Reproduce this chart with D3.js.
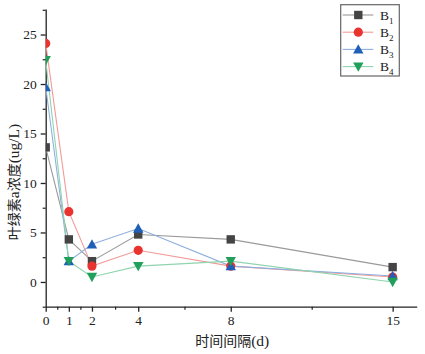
<!DOCTYPE html>
<html>
<head>
<meta charset="utf-8">
<script src="https://cdn.jsdelivr.net/npm/d3@7/dist/d3.min.js"></script>
<style>
  html, body { margin: 0; padding: 0; background: #fff; }
  svg { display: block; }
  text { font-family: "Liberation Serif", "Times New Roman", serif; fill: #222; }
</style>
</head>
<body>
<svg id="chart" width="425" height="354"></svg>
<script>
const days = [0, 1, 2, 4, 8, 15];
const xTickLabels = ["0", "1", "2", "4", "8", "15"];
const xMinorTicks = [0.5, 1.5, 3, 6, 11.5];
const yTicks = [0, 5, 10, 15, 20, 25];
const seriesNames = ["B1", "B2", "B3", "B4"];
const b1 = [13.6, 4.3, 2.1, 4.8, 4.3, 1.5];
const b2 = [24.1, 7.1, 1.6, 3.2, 1.6, 0.5];
const b3 = [19.7, 2.1, 3.8, 5.4, 1.6, 0.6];
const b4 = [22.4, 2.1, 0.5, 1.6, 2.1, 0.0];
const xTitle = "时间间隔(d)";
const yTitle = "叶绿素a浓度(ug/L)";

const markerColors = ["#444444", "#e8332f", "#1f5fb8", "#20a05a"];
const lineColors = ["#9a9a9a", "#f29a98", "#8fb0de", "#8fd4ae"];
const shapes = ["square", "circle", "triangle", "triangleDown"];

const svg = d3.select("#chart");
const mLeft = 45.7, mRight = 416.7, mTop = 9, mBottom = 306.7;

const x = d3.scaleLinear().domain([0, 16.04]).range([mLeft, mRight]);
const y = d3.scaleLinear().domain([-2.5, 27.58]).range([mBottom, mTop]);

svg.append("defs").append("clipPath").attr("id", "plotclip")
  .append("rect").attr("x", mLeft).attr("y", mTop).attr("width", mRight - mLeft).attr("height", mBottom - mTop);

// axes
const xAxis = d3.axisBottom(x).tickValues(days).tickFormat((d, i) => xTickLabels[i]).tickSize(5).tickSizeOuter(0).tickPadding(4);
const gx = svg.append("g").attr("transform", `translate(0,${mBottom})`).call(xAxis);
gx.selectAll("text").style("font-size", "13.5px").attr("fill", "#222");
gx.select(".domain").attr("stroke", "#222").attr("stroke-width", 1.3);
gx.selectAll(".tick line").attr("stroke", "#222").attr("stroke-width", 1.3);
const xMinor = d3.axisBottom(x).tickValues(xMinorTicks).tickFormat("").tickSize(3).tickSizeOuter(0);
const gxm = svg.append("g").attr("transform", `translate(0,${mBottom})`).call(xMinor);
gxm.select(".domain").remove();
gxm.selectAll(".tick line").attr("stroke", "#222").attr("stroke-width", 1.2);

const yAxis = d3.axisLeft(y).tickValues(yTicks).tickSize(5).tickSizeOuter(0).tickPadding(4);
const gy = svg.append("g").attr("transform", `translate(${mLeft},0)`).call(yAxis);
gy.selectAll("text").style("font-size", "13.5px").attr("fill", "#222");
gy.select(".domain").attr("stroke", "#222").attr("stroke-width", 1.3);
gy.selectAll(".tick line").attr("stroke", "#222").attr("stroke-width", 1.3);
const yMinor = d3.axisLeft(y).tickValues([-2.5, 2.5, 7.5, 12.5, 17.5, 22.5, 27.5]).tickFormat("").tickSize(3).tickSizeOuter(0);
const gym = svg.append("g").attr("transform", `translate(${mLeft},0)`).call(yMinor);
gym.select(".domain").remove();
gym.selectAll(".tick line").attr("stroke", "#222").attr("stroke-width", 1.2);

// titles: CJK parts in CJK font, Latin parts in serif
function addMixed(textSel, str) {
  const parts = str.match(/[\u4e00-\u9fff]+|[^\u4e00-\u9fff]+/g);
  parts.forEach(p => {
    const cjk = /[\u4e00-\u9fff]/.test(p);
    textSel.append("tspan")
      .style("font-family", cjk ? "'Noto Sans CJK SC', sans-serif" : "'Liberation Serif', serif")
      .style("font-size", cjk ? "14px" : "15.5px")
      .text(p);
  });
}
const xt = svg.append("text").attr("x", (mLeft + mRight) / 2 + 1).attr("y", 346)
  .attr("text-anchor", "middle").attr("fill", "#555");
addMixed(xt, xTitle);
const yt = svg.append("text").attr("transform", `translate(19,182) rotate(-90)`)
  .attr("text-anchor", "middle").attr("fill", "#555");
addMixed(yt, yTitle);

function drawMarker(g, shape, cx, cy, color) {
  const s = 4.2;
  if (shape === "square") {
    g.append("rect").attr("x", cx - s).attr("y", cy - s).attr("width", 2 * s).attr("height", 2 * s).attr("fill", color);
  } else if (shape === "circle") {
    g.append("circle").attr("cx", cx).attr("cy", cy).attr("r", s + 0.4).attr("fill", color);
  } else if (shape === "triangle") {
    g.append("path").attr("d", `M${cx},${cy - s - 1} L${cx + s + 1},${cy + s} L${cx - s - 1},${cy + s} Z`).attr("fill", color);
  } else {
    g.append("path").attr("d", `M${cx},${cy + s + 1} L${cx + s + 1},${cy - s} L${cx - s - 1},${cy - s} Z`).attr("fill", color);
  }
}

const allSeries = [b1, b2, b3, b4];
const plot = svg.append("g").attr("clip-path", "url(#plotclip)");
const line = d3.line().x((d, i) => x(days[i])).y(d => y(d));
allSeries.forEach((vals, k) => {
  plot.append("path").datum(vals).attr("d", line)
    .attr("fill", "none").attr("stroke", lineColors[k]).attr("stroke-width", 1.1);
});
allSeries.forEach((vals, k) => {
  const g = plot.append("g");
  vals.forEach((v, i) => drawMarker(g, shapes[k], x(days[i]), y(v), markerColors[k]));
});

// legend
const lg = svg.append("g");
lg.append("rect").attr("x", 340.7).attr("y", 4.7).attr("width", 58.6).attr("height", 71.3)
  .attr("fill", "#fff").attr("stroke", "#666").attr("stroke-width", 1.2);
seriesNames.forEach((name, k) => {
  const cy = 15 + k * 17.2;
  lg.append("line").attr("x1", 342.7).attr("x2", 373.3).attr("y1", cy).attr("y2", cy)
    .attr("stroke", lineColors[k]).attr("stroke-width", 1.1);
  drawMarker(lg, shapes[k], 358.3, cy, markerColors[k]);
  const t = lg.append("text").attr("x", 380).attr("y", cy + 4.5).style("font-size", "13.5px").attr("fill", "#222");
  t.append("tspan").text(name.charAt(0));
  t.append("tspan").attr("dy", 4).style("font-size", "9px").text(name.slice(1));
});
</script>
</body>
</html>
